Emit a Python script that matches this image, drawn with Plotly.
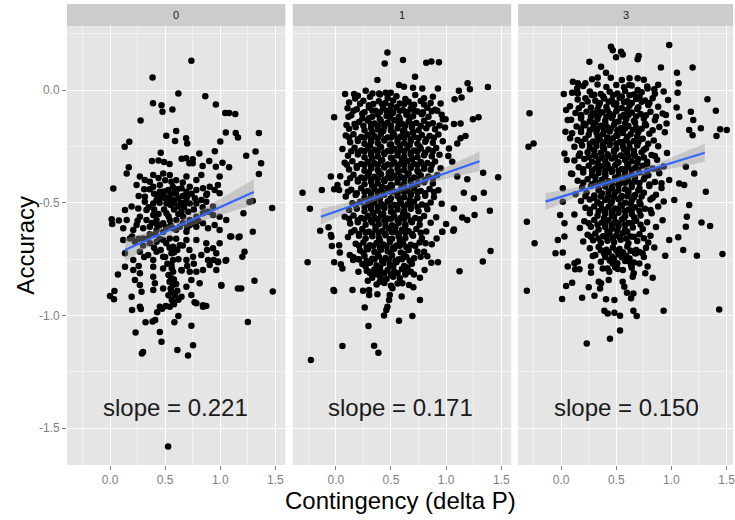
import plotly.graph_objects as go

# ---------------- data ----------------
panels = ["0", "1", "3"]
slope_labels = ["slope = 0.221", "slope = 0.171", "slope = 0.150"]
x_tick_vals = [0.0, 0.5, 1.0, 1.5]
x_tick_text = ["0.0", "0.5", "1.0", "1.5"]
y_tick_vals = [0.0, -0.5, -1.0, -1.5]
y_tick_text = ["0.0", "-0.5", "-1.0", "-1.5"]

# panel "0" points (contingency, accuracy)
p0_pts = [
    (0.738,0.130),(0.386,0.056),(0.62,-0.015),(0.864,-0.028),(0.39,-0.059),(0.467,-0.067),(0.476,-0.096),
    (0.566,-0.086),(0.96,-0.064),(1.045,-0.102),(1.08,-0.102),(1.136,-0.106),(0.277,-0.135),(0.60,-0.182),
    (0.51,-0.203),(0.59,-0.226),(0.69,-0.214),(0.70,-0.237),(1.05,-0.188),(1.14,-0.191),(1.16,-0.211),
    (1.35,-0.191),(0.175,-0.229),(0.133,-0.251),(1.0,-0.228),(0.95,-0.271),(0.81,-0.282),(0.46,-0.278),
    (1.32,-0.273),(1.235,-0.291),(1.37,-0.325),(0.38,-0.315),(0.44,-0.312),(0.49,-0.319),(0.54,-0.328),
    (0.65,-0.305),(0.69,-0.303),(0.75,-0.307),(0.72,-0.325),(0.75,-0.325),(0.84,-0.337),(0.90,-0.315),
    (0.96,-0.34),(1.02,-0.322),(1.08,-0.343),(0.17,-0.343),
    (1.35,-0.372),(0.03,-0.437),(0.015,-0.573),(0.08,-0.579),(0.02,-0.594),(1.47,-0.523),(1.295,-0.492),
    (1.265,-0.497),(1.295,-0.628),(1.31,-0.846),(1.476,-0.894),(1.25,-1.029),(0.62,-1.002),(0.584,-1.03),
    (0.738,-1.045),(0.753,-1.132),(0.708,-1.177),(0.611,-1.153),(0.467,-1.116),(0.452,-1.073),(0.30,-1.162),
    (0.289,-1.169),(0.232,-1.075),(0.322,-1.030),(0.386,-1.027),(0.41,-1.020),(0.0,-0.914),(0.036,-0.928),
    (0.04,-0.891),(0.072,-0.818),(0.527,-1.581),
    (1.20,-0.739),(1.19,-0.88),(1.21,-0.547),(1.166,-0.653),(1.09,-0.650),(1.048,-0.757),(0.98,-0.764),
    (0.94,-0.754),(1.01,-0.868),(0.843,-0.961),(0.873,-0.958),(0.767,-0.941),(0.20,-0.976),(0.28,-0.971),
    (0.428,-0.985),(0.473,-0.970),(0.506,-0.958),
    (0.151,-0.370),(0.271,-0.384),(0.316,-0.399),(0.392,-0.377),(0.482,-0.370),(0.542,-0.377),(0.557,-0.407),
    (0.693,-0.384),(0.783,-0.399),(0.828,-0.377),(0.994,-0.384),(0.979,-0.421),(0.241,-0.421),(0.392,-0.429),
    (0.452,-0.421),(0.361,-0.407),
    (0.452,-0.451),(0.482,-0.466),(0.527,-0.443),(0.572,-0.458),(0.648,-0.436),(0.693,-0.451),(0.723,-0.429),
    (0.783,-0.443),(0.843,-0.436),(0.873,-0.466),(0.904,-0.429),(0.949,-0.443),(0.994,-0.458),(0.316,-0.473),
    (0.422,-0.488),
    (0.316,-0.495),(0.392,-0.503),(0.452,-0.480),(0.512,-0.503),(0.572,-0.488),(0.617,-0.517),(0.693,-0.480),
    (0.723,-0.503),(0.783,-0.503),(0.828,-0.488),(0.873,-0.495),(0.934,-0.517),(0.136,-0.532),(0.196,-0.517),
    (0.256,-0.525),(0.331,-0.532),(0.512,-0.547),(0.648,-0.540),
    (0.151,-0.576),(0.271,-0.562),(0.331,-0.576),(0.392,-0.554),(0.422,-0.576),(0.482,-0.591),(0.542,-0.576),
    (0.602,-0.576),(0.663,-0.562),(0.723,-0.576),(0.783,-0.562),(0.843,-0.547),(0.889,-0.540),(0.934,-0.554),
    (0.994,-0.562),(1.054,-0.576),
    (0.120,-0.613),(0.211,-0.621),(0.241,-0.599),(0.301,-0.613),(0.361,-0.606),(0.422,-0.621),(0.482,-0.628),
    (0.572,-0.613),(0.633,-0.606),(0.693,-0.628),(0.723,-0.599),(0.783,-0.606),(0.843,-0.591),(0.889,-0.613),
    (0.949,-0.599),(0.994,-0.621),
    (0.120,-0.665),(0.181,-0.658),(0.226,-0.673),(0.301,-0.658),(0.361,-0.680),(0.422,-0.673),(0.482,-0.665),
    (0.542,-0.658),(0.572,-0.695),(0.633,-0.688),(0.693,-0.665),(0.783,-0.665),(0.873,-0.680),(0.934,-0.702),
    (1.099,-0.650),(1.175,-0.650),(0.994,-0.680),
    (0.136,-0.724),(0.211,-0.754),(0.271,-0.717),(0.346,-0.732),(0.392,-0.754),(0.422,-0.717),(0.482,-0.739),
    (0.557,-0.724),(0.572,-0.754),(0.693,-0.754),(0.753,-0.739),(0.828,-0.732),(0.889,-0.754),(0.979,-0.761),
    (1.054,-0.754),(1.220,-0.717),(0.964,-0.724),
    (0.136,-0.784),(0.211,-0.798),(0.271,-0.813),(0.392,-0.784),(0.482,-0.791),(0.557,-0.776),(0.572,-0.806),
    (0.648,-0.798),(0.723,-0.806),(0.783,-0.806),(0.843,-0.798),(0.904,-0.776),(0.964,-0.798),
    (0.226,-0.843),(0.271,-0.865),(0.392,-0.828),(0.407,-0.857),(0.482,-0.880),(0.557,-0.835),(0.572,-0.865),
    (0.738,-0.843),(0.813,-0.857),(1.009,-0.865),(1.160,-0.880),(0.693,-0.872),
    (0.196,-0.917),(0.286,-0.895),(0.392,-0.887),(0.557,-0.895),(0.572,-0.939),(0.648,-0.917),(0.738,-0.909),
    (0.783,-0.946),(0.843,-0.954),(0.271,-0.961),(0.452,-0.961),(0.542,-0.961),
    (0.47,-0.46),(0.50,-0.48),(0.54,-0.47),(0.58,-0.50),(0.60,-0.46),(0.62,-0.48),(0.55,-0.51),(0.43,-0.47),
    (0.66,-0.47),(0.68,-0.50),(0.56,-0.79),(0.58,-0.84),(0.55,-0.88),(0.59,-0.91),(0.56,-0.93),(0.60,-0.86),
    (0.53,-0.82),(0.58,-0.72),(0.54,-0.70),(0.60,-0.66),(0.41,-0.64),(0.45,-0.60),(0.36,-0.64),(0.30,-0.69),
    (0.26,-0.66),(0.40,-0.70),(0.46,-0.71),
]
p0_fill = [
    (0.36,-0.44),(0.40,-0.46),(0.45,-0.50),(0.49,-0.45),(0.53,-0.49),(0.57,-0.43),(0.61,-0.44),(0.64,-0.50),
    (0.70,-0.47),(0.74,-0.46),(0.77,-0.48),(0.35,-0.52),(0.40,-0.53),(0.44,-0.55),(0.49,-0.53),(0.53,-0.56),
    (0.58,-0.53),(0.62,-0.55),(0.67,-0.52),(0.71,-0.54),(0.76,-0.53),(0.38,-0.59),(0.43,-0.60),(0.51,-0.61),
    (0.55,-0.60),(0.60,-0.62),(0.66,-0.59),(0.70,-0.61),(0.75,-0.59),(0.34,-0.66),(0.45,-0.66),(0.51,-0.68),
    (0.61,-0.71),(0.66,-0.69),(0.72,-0.71),(0.50,-0.74),(0.62,-0.75),(0.65,-0.80),(0.52,-0.77),(0.54,-0.85),
    (0.61,-0.89),(0.53,-0.91),(0.58,-0.95),(0.62,-0.93),(0.50,-0.40),(0.60,-0.40),(0.66,-0.41),(0.44,-0.39),
    (0.31,-0.44),(0.26,-0.47),(0.88,-0.46),(0.84,-0.52),(0.80,-0.58),(0.25,-0.58),(0.20,-0.65),(0.31,-0.74),
    (0.26,-0.78),(0.70,-0.78),(0.76,-0.77),(0.88,-0.71),
]

# panel "1" points
p1_pts = [
    (0.468,0.166),(0.443,0.118),(0.609,0.133),(0.82,0.121),(0.866,0.127),(0.935,0.123),(0.718,0.059),
    (0.377,0.044),(0.573,0.022),(0.618,0.015),(0.70,0.010),(0.784,0.007),(0.926,0.007),(1.195,0.030),
    (1.216,0.003),(1.379,0.013),(1.116,-0.003),(1.14,-0.033),(1.077,-0.041),(0.084,-0.018),(0.166,-0.018),
    (0.175,-0.037),(0.271,-0.003),(0.332,-0.015),(0.392,-0.015),(0.452,-0.012),(0.498,-0.012),(0.106,-0.081),
    (-0.015,-0.121),(0.115,-0.118),(0.241,-0.126),(0.097,-0.155),(0.92,-0.092),(0.971,-0.13),(0.995,-0.13),
    (1.071,-0.151),(1.131,-0.148),(1.243,-0.130),(1.294,-0.121),(1.176,-0.204),(1.131,-0.214),(1.101,-0.237),
    (1.026,-0.259),(1.056,-0.318),(1.336,-0.367),(1.472,-0.387),(1.192,-0.396),(1.101,-0.384),(-0.045,-0.384),
    (0.015,-0.421),(0.03,-0.443),(-0.015,-0.44),(-0.302,-0.455),(-0.127,-0.443),(-0.235,-0.526),(1.161,-0.455),
    (1.252,-0.48),(1.342,-0.455),(1.071,-0.525),(1.146,-0.565),(1.192,-0.576),(1.258,-0.554),(1.397,-0.535),
    (-0.142,-0.624),(-0.066,-0.609),(-0.045,-0.643),(1.071,-0.618),(0.965,-0.628),(1.0,-0.594),
    (-0.256,-0.764),(-0.015,-0.764),(-0.021,-0.887),(-0.015,-0.891),(0.06,-1.135),(-0.226,-1.197),
    (-0.036,-0.692),(-0.04,-0.651),(0.036,-0.721),(0.03,-0.688),(0.06,-0.791),(0.045,-0.773),(0.127,-0.732),
    (0.157,-0.754),(0.202,-0.751),(0.205,-0.806),(0.151,-0.887),(0.247,-0.89),(0.302,-0.887),(0.302,-0.909),
    (0.377,-0.906),(0.262,-0.964),(0.296,-1.047),(0.347,-1.134),(0.386,-1.165),(0.29,-0.846),(0.302,-0.806),
    (0.347,-0.81),(0.383,-0.813),(0.398,-0.85),(0.422,-0.84),(0.437,-1.0),(0.458,-0.976),(0.468,-0.961),
    (0.483,-0.931),(0.513,-0.879),(0.489,-0.909),(0.573,-1.023),(0.597,-0.916),(0.694,-1.002),(0.763,-0.931),
    (0.703,-0.875),(0.664,-0.865),(0.603,-0.857),(0.633,-0.813),(0.709,-0.818),(0.763,-0.832),(0.805,-0.798),
    (0.866,-0.766),(0.926,-0.764),(1.122,-0.804),(1.333,-0.761),(1.403,-0.714),(0.914,-0.658),(0.965,-0.628),
    (1.065,-0.624),(0.814,-0.68),(0.8,-0.717),(0.769,-0.739),
    (0.20,-0.025),(0.31,-0.03),(0.40,-0.02),(0.47,-0.035),(0.55,-0.028),(0.63,-0.04),(0.72,-0.022),(0.80,-0.036),(0.88,-0.03),
    (0.12,-0.055),(0.25,-0.048),(0.34,-0.062),(0.39,-0.05),(0.45,-0.058),(0.52,-0.046),(0.58,-0.06),(0.66,-0.052),(0.71,-0.065),(0.77,-0.049),(0.86,-0.057),(0.95,-0.06),
    (0.19,-0.085),(0.30,-0.078),(0.36,-0.092),(0.43,-0.08),(0.49,-0.088),(0.55,-0.076),(0.61,-0.09),(0.68,-0.082),(0.74,-0.095),(0.83,-0.079),(0.90,-0.087),
    (0.14,-0.112),(0.24,-0.105),(0.33,-0.118),(0.38,-0.108),(0.46,-0.115),(0.51,-0.104),(0.57,-0.12),(0.64,-0.11),(0.70,-0.116),(0.78,-0.107),(0.84,-0.118),(0.96,-0.11),
    (0.21,-0.142),(0.29,-0.135),(0.35,-0.148),(0.41,-0.138),(0.47,-0.145),(0.53,-0.134),(0.60,-0.15),(0.66,-0.14),(0.73,-0.146),(0.80,-0.136),(0.88,-0.147),
    (0.12,-0.172),(0.18,-0.165),(0.26,-0.178),(0.32,-0.168),(0.38,-0.175),(0.44,-0.164),(0.50,-0.18),(0.56,-0.17),(0.62,-0.176),(0.69,-0.166),(0.75,-0.178),(0.82,-0.169),(0.90,-0.174),(0.99,-0.166),
    (0.09,-0.202),(0.16,-0.196),(0.23,-0.208),(0.29,-0.198),(0.35,-0.205),(0.41,-0.194),(0.47,-0.21),(0.53,-0.2),(0.59,-0.206),(0.65,-0.196),(0.71,-0.208),(0.78,-0.199),(0.85,-0.204),(0.93,-0.197),
    (0.13,-0.232),(0.20,-0.226),(0.26,-0.238),(0.32,-0.228),(0.38,-0.235),(0.44,-0.224),(0.50,-0.24),(0.56,-0.23),(0.62,-0.236),(0.68,-0.226),(0.74,-0.238),(0.81,-0.229),(0.88,-0.234),(0.97,-0.227),
    (0.06,-0.262),(0.17,-0.256),(0.23,-0.268),(0.29,-0.258),(0.35,-0.265),(0.41,-0.254),(0.47,-0.27),(0.53,-0.26),(0.59,-0.266),(0.65,-0.256),(0.71,-0.268),(0.77,-0.259),(0.84,-0.264),(0.91,-0.257),
    (0.11,-0.292),(0.20,-0.286),(0.26,-0.298),(0.32,-0.288),(0.38,-0.295),(0.44,-0.284),(0.50,-0.3),(0.56,-0.29),(0.62,-0.296),(0.68,-0.286),(0.74,-0.298),(0.80,-0.289),(0.87,-0.294),(0.94,-0.287),(1.02,-0.293),
    (0.08,-0.322),(0.15,-0.316),(0.23,-0.328),(0.29,-0.318),(0.35,-0.325),(0.41,-0.314),(0.47,-0.33),(0.53,-0.32),(0.59,-0.326),(0.65,-0.316),(0.71,-0.328),(0.77,-0.319),(0.83,-0.324),(0.90,-0.317),
    (0.12,-0.352),(0.19,-0.346),(0.26,-0.358),(0.32,-0.348),(0.38,-0.355),(0.44,-0.344),(0.50,-0.36),(0.56,-0.35),(0.62,-0.356),(0.68,-0.346),(0.74,-0.358),(0.80,-0.349),(0.86,-0.354),(0.95,-0.347),
    (0.04,-0.382),(0.16,-0.376),(0.23,-0.388),(0.29,-0.378),(0.35,-0.385),(0.41,-0.374),(0.47,-0.39),(0.53,-0.38),(0.59,-0.386),(0.65,-0.376),(0.71,-0.388),(0.77,-0.379),(0.84,-0.384),(0.92,-0.377),
    (0.10,-0.412),(0.20,-0.406),(0.26,-0.418),(0.32,-0.408),(0.38,-0.415),(0.44,-0.404),(0.50,-0.42),(0.56,-0.41),(0.62,-0.416),(0.68,-0.406),(0.74,-0.418),(0.80,-0.409),(0.88,-0.414),
    (0.14,-0.442),(0.23,-0.436),(0.29,-0.448),(0.35,-0.438),(0.41,-0.445),(0.47,-0.434),(0.53,-0.45),(0.59,-0.44),(0.65,-0.446),(0.71,-0.436),(0.77,-0.448),(0.85,-0.439),(0.93,-0.444),
    (0.09,-0.472),(0.18,-0.466),(0.26,-0.478),(0.32,-0.468),(0.38,-0.475),(0.44,-0.464),(0.50,-0.48),(0.56,-0.47),(0.62,-0.476),(0.68,-0.466),(0.74,-0.478),(0.81,-0.469),(0.89,-0.474),
    (0.15,-0.502),(0.22,-0.496),(0.29,-0.508),(0.35,-0.498),(0.41,-0.505),(0.47,-0.494),(0.53,-0.51),(0.59,-0.5),(0.65,-0.506),(0.71,-0.496),(0.78,-0.508),(0.86,-0.499),(0.96,-0.504),
    (0.12,-0.532),(0.19,-0.526),(0.26,-0.538),(0.32,-0.528),(0.38,-0.535),(0.44,-0.524),(0.50,-0.54),(0.56,-0.53),(0.62,-0.536),(0.68,-0.526),(0.75,-0.538),(0.83,-0.529),
    (0.08,-0.562),(0.16,-0.556),(0.23,-0.568),(0.29,-0.558),(0.35,-0.565),(0.41,-0.554),(0.47,-0.57),(0.53,-0.56),(0.59,-0.566),(0.65,-0.556),(0.72,-0.568),(0.80,-0.559),(0.91,-0.564),
    (0.13,-0.592),(0.20,-0.586),(0.27,-0.598),(0.33,-0.588),(0.39,-0.595),(0.45,-0.584),(0.51,-0.6),(0.57,-0.59),(0.63,-0.596),(0.69,-0.586),(0.76,-0.598),(0.86,-0.589),
    (0.17,-0.622),(0.24,-0.616),(0.30,-0.628),(0.36,-0.618),(0.42,-0.625),(0.48,-0.614),(0.54,-0.63),(0.60,-0.62),(0.66,-0.626),(0.73,-0.616),(0.82,-0.627),
    (0.11,-0.652),(0.21,-0.646),(0.27,-0.658),(0.33,-0.648),(0.39,-0.655),(0.45,-0.644),(0.51,-0.66),(0.57,-0.65),(0.63,-0.656),(0.70,-0.646),(0.78,-0.657),
    (0.18,-0.682),(0.25,-0.676),(0.31,-0.688),(0.37,-0.678),(0.43,-0.685),(0.49,-0.674),(0.55,-0.69),(0.61,-0.68),(0.68,-0.686),(0.76,-0.676),(0.87,-0.684),
    (0.22,-0.712),(0.29,-0.706),(0.35,-0.718),(0.41,-0.708),(0.47,-0.715),(0.53,-0.704),(0.59,-0.72),(0.66,-0.71),(0.74,-0.716),
    (0.16,-0.742),(0.26,-0.736),(0.33,-0.748),(0.39,-0.738),(0.45,-0.745),(0.51,-0.734),(0.57,-0.75),(0.64,-0.74),(0.71,-0.746),(0.83,-0.737),
    (0.24,-0.772),(0.31,-0.766),(0.37,-0.778),(0.43,-0.768),(0.49,-0.775),(0.55,-0.764),(0.62,-0.78),(0.69,-0.77),
    (0.28,-0.802),(0.35,-0.796),(0.41,-0.808),(0.47,-0.798),(0.53,-0.805),(0.60,-0.794),(0.68,-0.806),
    (0.33,-0.832),(0.40,-0.826),(0.46,-0.838),(0.52,-0.828),(0.58,-0.835),
    (0.37,-0.862),(0.44,-0.856),(0.50,-0.868),(0.56,-0.858),
    (0.30,-0.125),(0.40,-0.13),(0.49,-0.122),(0.58,-0.128),(0.67,-0.124),
    (0.33,-0.188),(0.43,-0.182),(0.52,-0.19),(0.61,-0.184),(0.70,-0.187),
    (0.31,-0.245),(0.40,-0.25),(0.49,-0.243),(0.58,-0.248),(0.67,-0.244),(0.76,-0.25),
    (0.33,-0.305),(0.42,-0.31),(0.51,-0.303),(0.60,-0.308),(0.69,-0.305),
    (0.30,-0.367),(0.39,-0.362),(0.48,-0.368),(0.57,-0.364),(0.66,-0.37),(0.75,-0.365),
    (0.33,-0.425),(0.42,-0.43),(0.51,-0.424),(0.60,-0.428),(0.69,-0.424),
    (0.31,-0.487),(0.40,-0.482),(0.49,-0.489),(0.58,-0.484),(0.67,-0.488),
    (0.34,-0.545),(0.43,-0.55),(0.52,-0.544),(0.61,-0.548),
    (0.36,-0.607),(0.45,-0.603),(0.54,-0.609),(0.63,-0.604),
    (0.40,-0.667),(0.49,-0.662),(0.58,-0.668),
]
p1_fill = [
    (0.22,-0.061),(0.30,-0.068),(0.42,-0.063),(0.50,-0.069),(0.62,-0.062),(0.69,-0.068),(0.80,-0.064),
    (0.16,-0.092),(0.26,-0.098),(0.33,-0.091),(0.40,-0.097),(0.46,-0.093),(0.52,-0.099),(0.58,-0.092),(0.65,-0.097),(0.71,-0.091),(0.79,-0.098),(0.87,-0.094),
    (0.17,-0.151),(0.25,-0.158),(0.32,-0.152),(0.38,-0.159),(0.44,-0.153),(0.50,-0.158),(0.57,-0.151),(0.63,-0.157),(0.69,-0.152),(0.77,-0.159),(0.84,-0.153),(0.94,-0.157),
    (0.12,-0.211),(0.20,-0.218),(0.26,-0.212),(0.32,-0.219),(0.38,-0.213),(0.44,-0.218),(0.50,-0.211),(0.56,-0.217),(0.62,-0.212),(0.68,-0.219),(0.75,-0.213),(0.82,-0.218),(0.89,-0.212),
    (0.14,-0.271),(0.20,-0.278),(0.26,-0.272),(0.32,-0.279),(0.38,-0.273),(0.44,-0.278),(0.50,-0.271),(0.56,-0.277),(0.62,-0.272),(0.68,-0.279),(0.74,-0.273),(0.81,-0.278),(0.88,-0.272),
    (0.10,-0.331),(0.19,-0.338),(0.26,-0.332),(0.32,-0.339),(0.38,-0.333),(0.44,-0.338),(0.50,-0.331),(0.56,-0.337),(0.62,-0.332),(0.68,-0.339),(0.74,-0.333),(0.80,-0.338),(0.87,-0.332),
    (0.13,-0.391),(0.20,-0.398),(0.26,-0.392),(0.32,-0.399),(0.38,-0.393),(0.44,-0.398),(0.50,-0.391),(0.56,-0.397),(0.62,-0.392),(0.68,-0.399),(0.74,-0.393),(0.81,-0.398),(0.88,-0.392),
    (0.11,-0.451),(0.19,-0.458),(0.26,-0.452),(0.32,-0.459),(0.38,-0.453),(0.44,-0.458),(0.50,-0.451),(0.56,-0.457),(0.62,-0.452),(0.68,-0.459),(0.74,-0.453),(0.81,-0.458),(0.89,-0.452),
    (0.18,-0.511),(0.26,-0.518),(0.32,-0.512),(0.38,-0.519),(0.44,-0.513),(0.50,-0.518),(0.56,-0.511),(0.62,-0.517),(0.68,-0.512),(0.74,-0.519),(0.82,-0.513),
    (0.12,-0.571),(0.20,-0.578),(0.26,-0.572),(0.32,-0.579),(0.38,-0.573),(0.44,-0.578),(0.50,-0.571),(0.56,-0.577),(0.62,-0.572),(0.68,-0.579),(0.76,-0.573),
    (0.14,-0.631),(0.21,-0.638),(0.27,-0.632),(0.33,-0.639),(0.39,-0.633),(0.45,-0.638),(0.51,-0.631),(0.57,-0.637),(0.63,-0.632),(0.69,-0.639),(0.77,-0.633),
    (0.21,-0.691),(0.28,-0.698),(0.34,-0.692),(0.40,-0.699),(0.46,-0.693),(0.52,-0.698),(0.58,-0.691),(0.64,-0.697),(0.72,-0.692),
    (0.25,-0.722),(0.38,-0.728),(0.50,-0.723),(0.62,-0.727),
    (0.21,-0.751),(0.28,-0.758),(0.35,-0.752),(0.42,-0.759),(0.48,-0.753),(0.54,-0.758),(0.60,-0.751),(0.67,-0.757),
    (0.27,-0.782),(0.40,-0.788),(0.52,-0.783),(0.65,-0.787),
    (0.31,-0.811),(0.38,-0.818),(0.44,-0.812),(0.50,-0.819),(0.56,-0.813),(0.63,-0.818),
]

# panel "3" points
p3_pts = [
    (0.98,0.2),(0.452,0.192),(0.468,0.177),(0.543,0.170),(0.558,0.158),(0.498,0.145),(0.703,0.151),
    (0.694,0.136),(0.256,0.126),(0.362,0.103),(0.407,0.077),(0.332,0.056),(0.905,0.1),(1.05,0.077),
    (1.192,0.1),(0.106,0.037),(0.151,0.03),(0.22,0.03),(0.145,0.007),(0.024,-0.018),(0.151,-0.015),
    (0.278,-0.022),(0.694,0.052),(0.618,0.022),(0.694,0.0),(0.784,0.007),(0.845,0.003),(1.065,0.03),
    (1.056,-0.012),(1.327,-0.041),(1.403,-0.092),(1.442,-0.174),(1.502,-0.177),(1.409,-0.204),(1.267,-0.17),
    (-0.287,-0.103),(-0.296,-0.251),(-0.25,-0.237),(1.176,-0.096),(1.198,-0.133),(1.192,-0.2),(1.161,-0.177),
    (1.047,-0.077),(1.071,-0.118),(0.95,-0.111),(0.956,-0.148),(0.045,-0.089),(0.06,-0.133),(0.039,-0.185),
    (0.081,-0.214),(0.03,-0.281),(0.051,-0.31),(0.09,-0.37),(0.015,-0.436),(0.015,-0.495),(-0.009,-0.554),
    (0.03,-0.591),(-0.311,-0.584),(1.131,-0.34),(1.207,-0.37),(1.071,-0.414),(1.116,-0.421),(1.312,-0.451),
    (1.026,-0.488),(1.161,-0.51),(1.14,-0.562),(1.131,-0.606),(1.351,-0.603),(1.273,-0.587),(0.16,-0.081),
    (0.181,-0.118),(0.205,-0.148),(0.287,-0.103),(0.287,-0.145),
    (-0.241,-0.68),(-0.311,-0.89),(-0.03,-0.665),(-0.051,-0.724),(0.015,-0.721),(0.06,-0.783),(0.045,-0.869),
    (0.1,-0.855),(0.009,-0.927),(0.19,-0.921),(0.302,-0.912),(0.25,-0.875),(0.271,-0.81),(0.341,-0.85),
    (0.362,-0.857),(0.353,-0.88),(0.431,-0.843),(0.03,-0.65),(0.121,-0.768),(0.151,-0.761),(0.166,-0.795),
    (0.127,-0.795),(0.407,-0.928),(0.483,-0.931),(0.392,-0.979),(0.422,-0.991),(0.483,-0.988),(0.534,-1.001),
    (0.655,-0.979),(0.685,-1.002),(0.534,-1.067),(0.443,-1.103),(0.232,-1.124),(0.558,-0.85),(0.573,-0.872),
    (0.597,-0.899),(0.655,-0.902),(0.634,-0.924),(0.649,-0.828),(0.658,-0.813),(0.769,-0.894),(0.83,-0.833),
    (0.763,-0.813),(0.784,-0.783),(0.929,-0.979),(1.433,-0.973),(0.944,-0.735),(1.107,-0.709),(1.231,-0.735),
    (1.463,-0.727),(1.062,-0.653),(0.98,-0.665),(0.845,-0.698),(0.437,-0.806),(0.468,-0.769),(0.513,-0.794),
    (0.377,-0.791),(0.287,-0.736),(0.271,-0.783),(0.679,-0.724),(0.618,-0.761),(0.634,-0.776),(0.709,-0.769),
    (0.739,-0.724),
    (0.28,0.048),(0.45,0.055),(0.55,0.044),(0.62,0.052),(0.75,0.046),
    (0.20,0.018),(0.33,0.024),(0.41,0.014),(0.50,0.022),(0.57,0.012),(0.64,0.02),(0.78,0.016),(0.88,0.023),
    (0.10,-0.012),(0.26,-0.006),(0.36,-0.018),(0.44,-0.008),(0.51,-0.015),(0.58,-0.004),(0.66,-0.02),(0.73,-0.01),(0.85,-0.016),(0.93,-0.006),
    (0.15,-0.042),(0.22,-0.036),(0.31,-0.048),(0.39,-0.038),(0.46,-0.045),(0.53,-0.034),(0.60,-0.05),(0.68,-0.04),(0.76,-0.046),(0.83,-0.036),(0.97,-0.044),
    (0.08,-0.072),(0.19,-0.066),(0.27,-0.078),(0.34,-0.068),(0.41,-0.075),(0.48,-0.064),(0.55,-0.08),(0.62,-0.07),(0.70,-0.076),(0.79,-0.066),(0.88,-0.074),
    (0.13,-0.102),(0.23,-0.096),(0.30,-0.108),(0.37,-0.098),(0.44,-0.105),(0.50,-0.094),(0.57,-0.11),(0.64,-0.1),(0.72,-0.106),(0.81,-0.096),(0.92,-0.104),
    (0.09,-0.132),(0.18,-0.126),(0.26,-0.138),(0.33,-0.128),(0.40,-0.135),(0.46,-0.124),(0.52,-0.14),(0.59,-0.13),(0.66,-0.136),(0.75,-0.126),(0.85,-0.134),
    (0.14,-0.162),(0.22,-0.156),(0.29,-0.168),(0.36,-0.158),(0.42,-0.165),(0.48,-0.154),(0.54,-0.17),(0.61,-0.16),(0.68,-0.166),(0.77,-0.156),(0.89,-0.164),
    (0.10,-0.192),(0.18,-0.186),(0.25,-0.198),(0.32,-0.188),(0.38,-0.195),(0.44,-0.184),(0.50,-0.2),(0.56,-0.19),(0.63,-0.196),(0.70,-0.186),(0.80,-0.194),(0.94,-0.187),
    (0.15,-0.222),(0.22,-0.216),(0.29,-0.228),(0.35,-0.218),(0.41,-0.225),(0.47,-0.214),(0.53,-0.23),(0.59,-0.22),(0.66,-0.226),(0.74,-0.216),(0.84,-0.224),
    (0.12,-0.252),(0.19,-0.246),(0.26,-0.258),(0.32,-0.248),(0.38,-0.255),(0.44,-0.244),(0.50,-0.26),(0.56,-0.25),(0.62,-0.256),(0.69,-0.246),(0.77,-0.258),(0.88,-0.249),
    (0.17,-0.282),(0.24,-0.276),(0.30,-0.288),(0.36,-0.278),(0.42,-0.285),(0.48,-0.274),(0.54,-0.29),(0.60,-0.28),(0.66,-0.286),(0.73,-0.276),(0.82,-0.288),(0.96,-0.279),
    (0.12,-0.312),(0.21,-0.306),(0.28,-0.318),(0.34,-0.308),(0.40,-0.315),(0.46,-0.304),(0.52,-0.32),(0.58,-0.31),(0.64,-0.316),(0.70,-0.306),(0.78,-0.318),(0.87,-0.309),
    (0.16,-0.342),(0.25,-0.336),(0.31,-0.348),(0.37,-0.338),(0.43,-0.345),(0.49,-0.334),(0.55,-0.35),(0.61,-0.34),(0.67,-0.346),(0.74,-0.336),(0.83,-0.348),(0.93,-0.339),
    (0.10,-0.372),(0.20,-0.366),(0.28,-0.378),(0.34,-0.368),(0.40,-0.375),(0.46,-0.364),(0.52,-0.38),(0.58,-0.37),(0.64,-0.376),(0.71,-0.366),(0.79,-0.378),(0.89,-0.369),
    (0.15,-0.402),(0.24,-0.396),(0.31,-0.408),(0.37,-0.398),(0.43,-0.405),(0.49,-0.394),(0.55,-0.41),(0.61,-0.4),(0.67,-0.406),(0.75,-0.396),(0.85,-0.408),(0.98,-0.399),
    (0.19,-0.432),(0.27,-0.426),(0.34,-0.438),(0.40,-0.428),(0.46,-0.435),(0.52,-0.424),(0.58,-0.44),(0.64,-0.43),(0.71,-0.436),(0.80,-0.426),(0.91,-0.434),
    (0.13,-0.462),(0.23,-0.456),(0.30,-0.468),(0.37,-0.458),(0.43,-0.465),(0.49,-0.454),(0.55,-0.47),(0.61,-0.46),(0.67,-0.466),(0.75,-0.456),(0.86,-0.464),
    (0.18,-0.492),(0.26,-0.486),(0.33,-0.498),(0.40,-0.488),(0.46,-0.495),(0.52,-0.484),(0.58,-0.5),(0.64,-0.49),(0.71,-0.496),(0.81,-0.486),(0.93,-0.494),
    (0.22,-0.522),(0.30,-0.516),(0.37,-0.528),(0.43,-0.518),(0.49,-0.525),(0.55,-0.514),(0.61,-0.53),(0.67,-0.52),(0.76,-0.526),(0.88,-0.517),
    (0.12,-0.552),(0.26,-0.546),(0.33,-0.558),(0.40,-0.548),(0.46,-0.555),(0.52,-0.544),(0.58,-0.56),(0.64,-0.55),(0.72,-0.556),(0.82,-0.546),
    (0.21,-0.582),(0.30,-0.576),(0.37,-0.588),(0.43,-0.578),(0.49,-0.585),(0.55,-0.574),(0.61,-0.59),(0.68,-0.58),(0.78,-0.586),(0.92,-0.577),
    (0.17,-0.612),(0.27,-0.606),(0.34,-0.618),(0.40,-0.608),(0.46,-0.615),(0.52,-0.604),(0.58,-0.62),(0.65,-0.61),(0.74,-0.616),(0.86,-0.607),
    (0.24,-0.642),(0.31,-0.636),(0.38,-0.648),(0.44,-0.638),(0.50,-0.645),(0.56,-0.634),(0.63,-0.65),(0.71,-0.64),(0.81,-0.646),
    (0.20,-0.672),(0.29,-0.666),(0.36,-0.678),(0.42,-0.668),(0.48,-0.675),(0.54,-0.664),(0.61,-0.68),(0.69,-0.67),(0.79,-0.676),
    (0.26,-0.702),(0.34,-0.696),(0.41,-0.708),(0.47,-0.698),(0.53,-0.705),(0.60,-0.694),(0.68,-0.71),(0.77,-0.7),
    (0.31,-0.732),(0.39,-0.726),(0.46,-0.738),(0.52,-0.728),(0.59,-0.735),(0.67,-0.724),(0.75,-0.74),
    (0.36,-0.762),(0.44,-0.756),(0.51,-0.768),(0.58,-0.758),(0.66,-0.765),
    (0.42,-0.792),(0.49,-0.786),(0.56,-0.798),(0.64,-0.788),
    (0.33,-0.085),(0.42,-0.09),(0.51,-0.083),(0.60,-0.088),(0.69,-0.084),
    (0.31,-0.145),(0.40,-0.15),(0.49,-0.143),(0.58,-0.148),(0.67,-0.144),(0.76,-0.15),
    (0.33,-0.205),(0.42,-0.21),(0.51,-0.203),(0.60,-0.208),(0.69,-0.205),
    (0.30,-0.267),(0.39,-0.262),(0.48,-0.268),(0.57,-0.264),(0.66,-0.27),(0.75,-0.265),
    (0.33,-0.325),(0.42,-0.33),(0.51,-0.324),(0.60,-0.328),(0.69,-0.324),(0.78,-0.33),
    (0.31,-0.387),(0.40,-0.382),(0.49,-0.389),(0.58,-0.384),(0.67,-0.388),(0.76,-0.383),
    (0.34,-0.445),(0.43,-0.45),(0.52,-0.444),(0.61,-0.448),(0.70,-0.446),
    (0.36,-0.507),(0.45,-0.503),(0.54,-0.509),(0.63,-0.504),(0.72,-0.508),
    (0.39,-0.567),(0.48,-0.562),(0.57,-0.568),(0.66,-0.563),
    (0.42,-0.627),(0.51,-0.623),(0.60,-0.628),
]
p3_fill = [
    (0.30,-0.021),(0.38,-0.028),(0.47,-0.022),(0.55,-0.029),(0.62,-0.023),(0.71,-0.028),
    (0.24,-0.051),(0.35,-0.058),(0.43,-0.052),(0.50,-0.059),(0.57,-0.053),(0.64,-0.058),(0.73,-0.052),(0.80,-0.057),
    (0.18,-0.111),(0.27,-0.118),(0.34,-0.112),(0.41,-0.119),(0.47,-0.113),(0.54,-0.118),(0.61,-0.111),(0.68,-0.117),(0.77,-0.112),(0.86,-0.118),
    (0.18,-0.171),(0.26,-0.178),(0.33,-0.172),(0.39,-0.179),(0.45,-0.173),(0.51,-0.178),(0.58,-0.171),(0.65,-0.177),(0.73,-0.172),(0.83,-0.178),
    (0.18,-0.231),(0.26,-0.238),(0.32,-0.232),(0.38,-0.239),(0.44,-0.233),(0.50,-0.238),(0.56,-0.231),(0.62,-0.237),(0.70,-0.232),(0.79,-0.238),
    (0.16,-0.291),(0.25,-0.298),(0.31,-0.292),(0.37,-0.299),(0.43,-0.293),(0.49,-0.298),(0.55,-0.291),(0.61,-0.297),(0.67,-0.292),(0.75,-0.299),(0.85,-0.293),
    (0.20,-0.351),(0.28,-0.358),(0.34,-0.352),(0.40,-0.359),(0.46,-0.353),(0.52,-0.358),(0.58,-0.351),(0.64,-0.357),(0.70,-0.352),(0.78,-0.359),(0.88,-0.353),
    (0.20,-0.411),(0.28,-0.418),(0.34,-0.412),(0.40,-0.419),(0.46,-0.413),(0.52,-0.418),(0.58,-0.411),(0.64,-0.417),(0.71,-0.412),(0.80,-0.419),(0.91,-0.413),
    (0.22,-0.471),(0.30,-0.478),(0.36,-0.472),(0.42,-0.479),(0.48,-0.473),(0.54,-0.478),(0.60,-0.471),(0.66,-0.477),(0.73,-0.472),(0.83,-0.478),
    (0.26,-0.531),(0.34,-0.538),(0.40,-0.532),(0.46,-0.539),(0.52,-0.533),(0.58,-0.538),(0.64,-0.531),(0.71,-0.537),(0.81,-0.532),
    (0.25,-0.591),(0.33,-0.598),(0.40,-0.592),(0.46,-0.599),(0.52,-0.593),(0.58,-0.598),(0.64,-0.591),(0.72,-0.597),
    (0.27,-0.651),(0.34,-0.658),(0.41,-0.652),(0.47,-0.659),(0.53,-0.653),(0.59,-0.658),(0.66,-0.651),(0.75,-0.657),
    (0.36,-0.711),(0.43,-0.718),(0.50,-0.712),(0.56,-0.719),(0.63,-0.713),(0.71,-0.718),
    (0.40,-0.741),(0.48,-0.748),(0.55,-0.742),(0.62,-0.747),
]

# fitted regression lines and confidence bands
fit0_x = [0.136, 0.45, 0.6, 0.9, 1.304]
fit0_y = [-0.710, -0.641, -0.607, -0.541, -0.452]
fit0_lo = [-0.760, -0.666, -0.629, -0.571, -0.508]
fit0_hi = [-0.660, -0.616, -0.585, -0.511, -0.396]

fit1_x = [-0.136, 0.2, 0.5, 0.9, 1.303]
fit1_y = [-0.562, -0.505, -0.453, -0.385, -0.316]
fit1_lo = [-0.596, -0.523, -0.465, -0.405, -0.359]
fit1_hi = [-0.528, -0.487, -0.441, -0.365, -0.273]

fit3_x = [-0.142, 0.2, 0.5, 0.9, 1.303]
fit3_y = [-0.495, -0.444, -0.399, -0.339, -0.278]
fit3_lo = [-0.532, -0.462, -0.411, -0.359, -0.318]
fit3_hi = [-0.458, -0.426, -0.387, -0.319, -0.238]

# ---------------- figure ----------------
FONT = "Liberation Sans, Arial, Helvetica, sans-serif"
W, H = 735, 520
ML, MR, MT, MB = 67, 0, 26, 55
PW = W - ML - MR
PH = H - MT - MB

pts_list = [p0_pts + p0_fill, p1_pts + p1_fill, p3_pts + p3_fill]
fits = [(fit0_x, fit0_y, fit0_lo, fit0_hi), (fit1_x, fit1_y, fit1_lo, fit1_hi), (fit3_x, fit3_y, fit3_lo, fit3_hi)]
axis_ids = [("x", "y"), ("x2", "y2"), ("x3", "y3")]

fig = go.Figure()
for (xa, ya), pts, (fx, fy, flo, fhi) in zip(axis_ids, pts_list, fits):
    fig.add_trace(go.Scatter(
        x=[p[0] for p in pts], y=[p[1] for p in pts], mode="markers",
        marker=dict(size=6.5, color="black", line=dict(width=0)),
        xaxis=xa, yaxis=ya, showlegend=False, hoverinfo="skip"))
    fig.add_trace(go.Scatter(
        x=fx + fx[::-1], y=fhi + flo[::-1], mode="lines", fill="toself",
        fillcolor="rgba(153,153,153,0.4)", line=dict(width=0),
        xaxis=xa, yaxis=ya, showlegend=False, hoverinfo="skip"))
    fig.add_trace(go.Scatter(
        x=fx, y=fy, mode="lines", line=dict(color="#3366FF", width=2.2),
        xaxis=xa, yaxis=ya, showlegend=False, hoverinfo="skip"))

x_domains = [[0.0, 219 / PW], [226.5 / PW, 445.5 / PW], [452.5 / PW, 1.0]]
x_ranges = [[-0.39, 1.59], [-0.39, 1.59], [-0.39, -0.39 + 215.5 / 110.6]]
y_range = [-1.663, 0.284]

common_x = dict(
    tickmode="array", tickvals=x_tick_vals, ticktext=x_tick_text,
    ticks="outside", ticklen=4, tickwidth=1, tickcolor="#7f7f7f",
    tickfont=dict(family=FONT, size=12, color="#7f7f7f"), ticklabeloverflow="allow",
    showgrid=True, gridcolor="white", gridwidth=1.1, zeroline=False, showline=False,
    minor=dict(tickmode="array", tickvals=[-0.25, 0.25, 0.75, 1.25], showgrid=True,
               gridcolor="#f2f2f2", gridwidth=0.6, ticks=""),
)
common_y = dict(
    range=y_range, tickmode="array", tickvals=y_tick_vals, ticktext=y_tick_text,
    showgrid=True, gridcolor="white", gridwidth=1.1, zeroline=False, showline=False,
    minor=dict(tickmode="array", tickvals=[0.25, -0.25, -0.75, -1.25], showgrid=True,
               gridcolor="#f2f2f2", gridwidth=0.6, ticks=""),
)

layout = dict(
    width=W, height=H, margin=dict(l=ML, r=MR, t=MT, b=MB, pad=0),
    plot_bgcolor="#e5e5e5", paper_bgcolor="white", showlegend=False,
)
for i, ((xa, ya), dom, rng) in enumerate(zip(axis_ids, x_domains, x_ranges)):
    xkey = "xaxis" if i == 0 else f"xaxis{i + 1}"
    ykey = "yaxis" if i == 0 else f"yaxis{i + 1}"
    layout[xkey] = dict(common_x, domain=dom, range=rng, anchor=ya)
    yd = dict(common_y, domain=[0, 1], anchor=xa)
    if i == 0:
        yd.update(ticks="outside", ticklen=4, tickwidth=1, tickcolor="#7f7f7f",
                  tickfont=dict(family=FONT, size=12, color="#7f7f7f"))
    else:
        yd.update(matches="y", showticklabels=False, ticks="")
    layout[ykey] = yd
fig.update_layout(**layout)

strip_h = 22 / PH
shapes = []
annotations = []
for (xa, ya), lab, slope_txt in zip(axis_ids, panels, slope_labels):
    shapes.append(dict(type="rect", xref=f"{xa} domain", yref=f"{ya} domain",
                       x0=0, x1=1, y0=1, y1=1 + strip_h,
                       fillcolor="#cccccc", line=dict(width=0), layer="below"))
    annotations.append(dict(text=lab, xref=f"{xa} domain", yref=f"{ya} domain",
                            x=0.5, y=1 + strip_h / 2, showarrow=False,
                            xanchor="center", yanchor="middle",
                            font=dict(family=FONT, size=11, color="#1a1a1a")))
    annotations.append(dict(text=slope_txt, xref=xa, yref=ya, x=0.59, y=-1.41,
                            showarrow=False, xanchor="center", yanchor="middle",
                            font=dict(family=FONT, size=24, color="#1a1a1a")))

annotations.append(dict(text="Contingency (delta P)", xref="paper", yref="paper",
                        x=0.5, y=-(500 - (MT + PH)) / PH, showarrow=False,
                        xanchor="center", yanchor="middle",
                        font=dict(family=FONT, size=24, color="black")))
annotations.append(dict(text="Accuracy", xref="paper", yref="paper",
                        x=(25 - ML) / PW, y=0.5, showarrow=False, textangle=-90,
                        xanchor="center", yanchor="middle",
                        font=dict(family=FONT, size=24, color="black")))
fig.update_layout(shapes=shapes, annotations=annotations)

fig.write_html("out.html")
